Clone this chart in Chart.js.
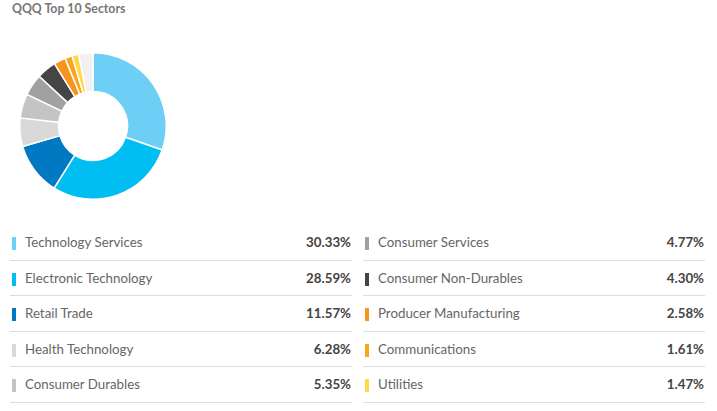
<!DOCTYPE html>
<html>
<head>
<meta charset="utf-8">
<script src="https://cdn.jsdelivr.net/npm/chart.js@4"></script>
<style>
  html, body { margin: 0; padding: 0; background: #fff; }
  body { width: 717px; height: 411px; position: relative; overflow: hidden; font-family: Lato, "Open Sans", sans-serif; }
  .title { position: absolute; left: 12px; top: 1px; font-size: 12.3px; font-weight: bold; color: #777; }
  .donut { position: absolute; left: 19px; top: 52px; width: 148px; height: 148px; }
  .legend { position: absolute; top: 225px; width: 342px; }
  .row { position: relative; height: 35.5px; border-bottom: 1px solid #ddd; box-sizing: border-box; }
  .bar { position: absolute; left: 2px; top: 12px; width: 4px; height: 13px; }
  .name { position: absolute; left: 15px; top: 9px; font-size: 13.3px; color: #666; }
  .val { position: absolute; right: 1px; top: 9px; font-size: 13.3px; font-weight: bold; color: #444; }
</style>
</head>
<body>
<div class="title">QQQ Top 10 Sectors</div>
<div class="donut"><canvas id="c"></canvas></div>
<div class="legend" id="legL" style="left:10px"></div>
<div class="legend" id="legR" style="left:363px"></div>
<script>
const sectors = ["Technology Services", "Electronic Technology", "Retail Trade", "Health Technology", "Consumer Durables",
                 "Consumer Services", "Consumer Non-Durables", "Producer Manufacturing", "Communications", "Utilities"];
const weights = [30.33, 28.59, 11.57, 6.28, 5.35, 4.77, 4.30, 2.58, 1.61, 1.47];
const colors = ["#6dcff6", "#00bdf2", "#0079c2", "#d9d9d9", "#c4c4c4",
                "#a1a1a1", "#454545", "#f7941d", "#f9a61a", "#ffd84a"];
const otherColor = "#f1f1f1";

// the part not in the top 10 fills the rest of the ring
const other = +(100 - weights.reduce((s, v) => s + v, 0)).toFixed(2);

new Chart(document.getElementById("c").getContext("2d"), {
    type: "doughnut",
    data: {
        labels: sectors.concat(["Other"]),
        datasets: [{
            data: weights.concat([other]),
            backgroundColor: colors.concat([otherColor]),
            borderColor: "#fff",
            borderWidth: 1.5
        }]
    },
    options: {
        responsive: true,
        maintainAspectRatio: false,
        animation: false,
        cutout: "47%",
        layout: { padding: 0 },
        plugins: { legend: { display: false }, tooltip: { enabled: false } }
    }
});

function fillLegend(el, from, to) {
    for (let i = from; i < to; i++) {
        const row = document.createElement("div");
        row.className = "row";
        row.innerHTML = '<span class="bar" style="background:' + colors[i] + '"></span>' +
            '<span class="name">' + sectors[i] + '</span>' +
            '<span class="val">' + weights[i].toFixed(2) + '%</span>';
        el.appendChild(row);
    }
}
fillLegend(document.getElementById("legL"), 0, 5);
fillLegend(document.getElementById("legR"), 5, 10);
</script>
</body>
</html>
